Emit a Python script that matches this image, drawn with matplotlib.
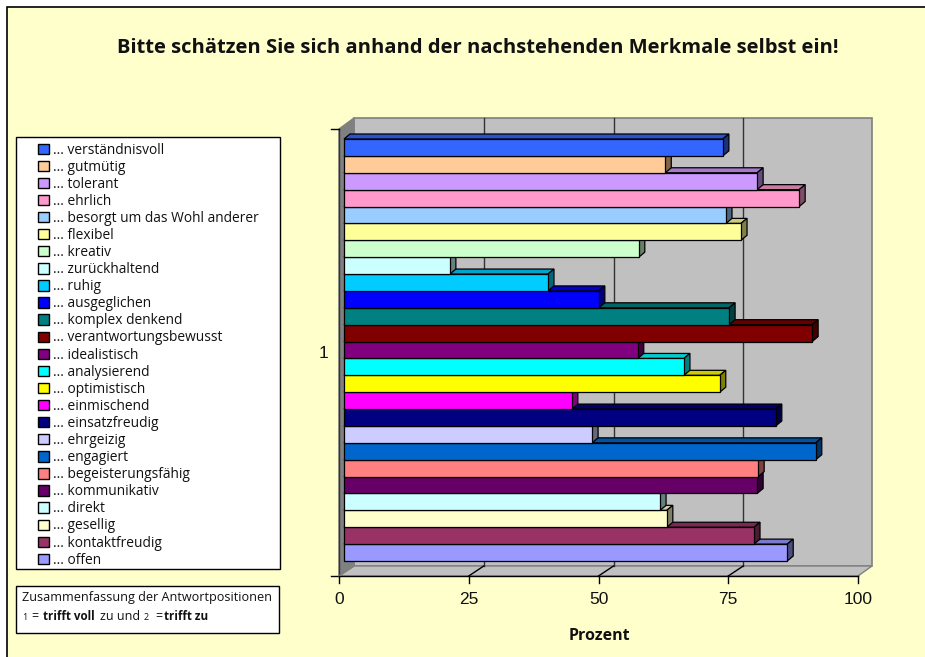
import matplotlib
matplotlib.use('Agg')
import matplotlib.pyplot as plt
from matplotlib.patches import Polygon, Rectangle, Patch
from matplotlib.colors import to_rgb

merkmale = ['verständnisvoll', 'gutmütig', 'tolerant', 'ehrlich', 'besorgt um das Wohl anderer',
            'flexibel', 'kreativ', 'zurückhaltend', 'ruhig', 'ausgeglichen', 'komplex denkend',
            'verantwortungsbewusst', 'idealistisch', 'analysierend', 'optimistisch', 'einmischend',
            'einsatzfreudig', 'ehrgeizig', 'engagiert', 'begeisterungsfähig', 'kommunikativ',
            'direkt', 'gesellig', 'kontaktfreudig', 'offen']
prozent = [73.0, 61.9, 79.6, 87.7, 73.6, 76.5, 56.8, 20.4, 39.3, 49.1, 74.2, 90.2, 56.6,
           65.5, 72.4, 43.9, 83.2, 47.8, 90.9, 79.8, 79.6, 60.9, 62.2, 79.0, 85.4]
farben = ['#3366FF', '#FFCC99', '#CC99FF', '#FF99CC', '#99CCFF', '#FFFF99', '#CCFFCC', '#CCFFFF',
          '#00CCFF', '#0000FF', '#008080', '#800000', '#800080', '#00FFFF', '#FFFF00', '#FF00FF',
          '#000080', '#CCCCFF', '#0066CC', '#FF8080', '#660066', '#CCFFFF', '#FFFFCC', '#993366',
          '#9999FF']
x_ticks = [0, 25, 50, 75, 100]

W, H = 925, 657
TEXT = 'Open Sans'
fig = plt.figure(figsize=(W / 100, H / 100), dpi=100, facecolor='white')

# Hintergrund in Pixelkoordinaten
bg = fig.add_axes([0, 0, 1, 1])
bg.set_xlim(0, W)
bg.set_ylim(H, 0)
bg.axis('off')
bg.add_patch(Rectangle((7, 7), W, H, fc='#FFFFCC', ec='black', lw=1.2))

bg.text(478, 48, 'Bitte schätzen Sie sich anhand der nachstehenden Merkmale selbst ein!',
        family=TEXT, weight='bold', fontsize=14.5, ha='center', va='center', color='#111111')

# 3D-Kasten
px_unit = 5.19
bg.add_patch(Polygon([(354, 118), (872, 118), (872, 566), (354, 566)], fc='#C0C0C0', ec='#808080', lw=1.2))
bg.add_patch(Polygon([(339, 129), (354, 118), (354, 566), (339, 576)], fc='#808080', ec='#808080', lw=1))
bg.add_patch(Polygon([(339, 576), (354, 566), (872, 566), (858, 576)], fc='#C0C0C0', ec='#808080', lw=1))
bg.plot([339, 858], [576, 576], color='black', lw=1)
bg.plot([339, 339], [129, 576], color='#333333', lw=1)
bg.plot([331, 339], [129, 129], color='black', lw=1)
bg.plot([331, 339], [576, 576], color='black', lw=1)
bg.plot([339, 354], [576, 566], color='#808080', lw=1)
for t in x_ticks:
    xf = 339 + t * px_unit
    bg.plot([xf, xf], [576, 583], color='black', lw=1)
    if 0 < t < 100:
        bg.plot([xf + 15, xf + 15], [118, 566], color='#333333', lw=1)
        bg.plot([xf, xf + 15], [576, 566], color='black', lw=1)
    bg.text(xf, 599, str(t), family='Liberation Sans', fontsize=12.5, ha='center', va='center', color='#111111')
bg.text(323, 353, '1', family='Liberation Sans', fontsize=12.5, ha='center', va='center', color='#111111')
bg.text(599, 636, 'Prozent', family=TEXT, weight='bold', fontsize=11.5, ha='center', va='center', color='#111111')

# Balken
ax = fig.add_axes([344 / W, 1 - 561 / H, 519 / W, 422 / H])
ax.patch.set_alpha(0)
ax.axis('off')
ax.set_xlim(0, 100)
ax.set_ylim(24.5, -0.5)
dx = 6 / px_unit
dy = 5 / (422 / 25)

def dunkel(farbe, f):
    return tuple(c * f for c in to_rgb(farbe))

for i in range(len(prozent) - 1, -1, -1):
    v = prozent[i]
    z = 10 + (len(prozent) - i)
    top = i - 0.5
    bot = i + 0.5
    ax.add_patch(Polygon([(0, top), (dx, top - dy), (v + dx, top - dy), (v, top)],
                         fc=dunkel(farben[i], 0.8), ec='black', lw=0.9, zorder=z, clip_on=False))
    ax.add_patch(Polygon([(v, top), (v + dx, top - dy), (v + dx, bot - dy), (v, bot)],
                         fc=dunkel(farben[i], 0.5), ec='black', lw=0.9, zorder=z, clip_on=False))
    ax.barh(i, v, height=1, color=farben[i], edgecolor='black', lw=0.9, zorder=z, clip_on=False)

# Legende
bg.add_patch(Rectangle((17, 138), 264, 432, fc='#808080', ec='none', zorder=1))
bg.add_patch(Rectangle((16, 137), 264, 432, fc='white', ec='black', lw=1, zorder=2))
griffe = [Patch(fc=f, ec='black', lw=1) for f in farben]
namen = ['... ' + m for m in merkmale]
leg = bg.legend(griffe, namen, loc='upper left', bbox_to_anchor=(38 / W, 1 - 142.5 / H),
                bbox_transform=fig.transFigure, frameon=False, borderpad=0, borderaxespad=0,
                prop={'family': TEXT, 'size': 9.9}, handlelength=0.78, handleheight=0.78,
                handletextpad=0.33, labelspacing=0.152, labelcolor='#111111')
leg.set_zorder(5)

# Kasten unten
bg.add_patch(Rectangle((16, 586), 263, 47, fc='white', ec='black', lw=1, zorder=2))
bg.text(22, 598, 'Zusammenfassung der Antwortpositionen', family=TEXT, fontsize=9.05, va='center', color='#111111', zorder=5)
teile = [(22, '1', 'normal', 6.5), (31, '=', 'normal', 9), (43, 'trifft voll', 'bold', 8.4),
         (100, 'zu und', 'normal', 9), (144, '2', 'normal', 6.5), (155, '=', 'normal', 9),
         (164, 'trifft zu', 'bold', 8.4)]
for xp, s, w, fs in teile:
    bg.text(xp, 617, s, family=TEXT, weight=w, fontsize=fs, va='center', color='#111111', zorder=5)

fig.savefig('out.png', dpi=100)
